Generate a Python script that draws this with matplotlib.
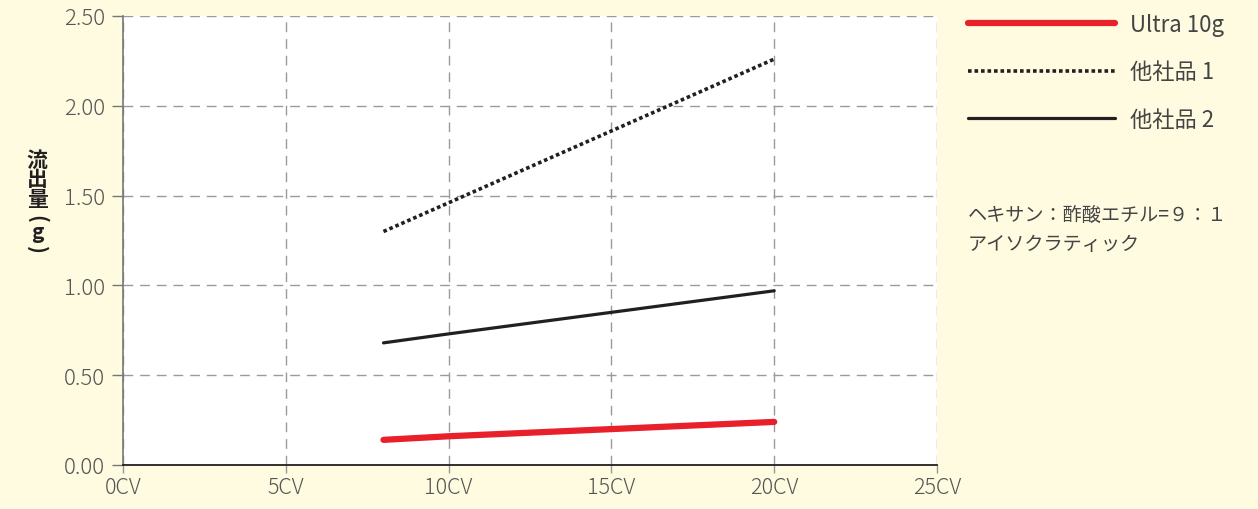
import matplotlib
matplotlib.use("Agg")
import matplotlib.pyplot as plt

plt.rcParams['font.family'] = ['Noto Sans CJK JP', 'DejaVu Sans']

# data
cv = [8, 10, 15, 20]
ultra = [0.14, 0.16, 0.20, 0.24]
other1 = [1.30, 1.46, 1.86, 2.26]
other2 = [0.68, 0.73, 0.85, 0.97]

series_labels = ["Ultra 10g", "他社品 1", "他社品 2"]
xticks = [0, 5, 10, 15, 20, 25]
xtick_labels = ["0CV", "5CV", "10CV", "15CV", "20CV", "25CV"]
yticks = [0.0, 0.5, 1.0, 1.5, 2.0, 2.5]
ytick_labels = ["0.00", "0.50", "1.00", "1.50", "2.00", "2.50"]
ylabel_top = "流\n出\n量"
ylabel_unit = "g"
note = "ヘキサン：酢酸エチル=９：１\nアイソクラティック"

bg = "#fefbe0"
fig = plt.figure(figsize=(12.58, 5.10), dpi=100, facecolor=bg)
ax = fig.add_axes([123 / 1258, 1 - 466 / 510, (937 - 123) / 1258, (466 - 17) / 510])
ax.set_facecolor("white")

ax.plot(cv, ultra, color="#e8202a", lw=4.5, solid_capstyle="round", label=series_labels[0], zorder=4)
ax.plot(cv, other1, color="#231f20", lw=2.6, linestyle=(0, (1, 0.8)), dash_capstyle="butt",
        label=series_labels[1], zorder=4)
ax.plot(cv, other2, color="#231f20", lw=2.3, solid_capstyle="round", label=series_labels[2], zorder=4)

ax.set_xlim(0, 25)
ax.set_ylim(0, 2.5)
ax.set_xticks(xticks)
ax.set_xticklabels(xtick_labels)
ax.set_yticks(yticks)
ax.set_yticklabels(ytick_labels)
ax.grid(True, color="#9a9a9a", lw=1, linestyle=(0, (7, 5)), zorder=1)
ax.set_axisbelow(True)

for s in ["top", "right"]:
    ax.spines[s].set_visible(False)
ax.spines["left"].set_color("#777777")
ax.spines["left"].set_linewidth(1.2)
ax.spines["bottom"].set_color("#231f20")
ax.spines["bottom"].set_linewidth(1.3)
ax.spines["bottom"].set_zorder(5)

ax.tick_params(axis="y", direction="out", length=8, width=1, color="#777777",
               labelsize=16, labelcolor="#555555", pad=5)
ax.tick_params(axis="x", direction="out", length=6, width=1, color="#999999",
               labelsize=15.5, labelcolor="#555555", pad=2)
for t in ax.get_xticklabels() + ax.get_yticklabels():
    t.set_fontweight("light")

# vertical y label: stacked kanji, then rotated brackets around an upright g
lx = 37 / 1258
fig.text(lx, 1 - 180 / 510, ylabel_top, ha="center", va="center", fontsize=15,
         fontweight="bold", color="#231f20", linespacing=0.92)
fig.text(lx, 1 - 219 / 510, "(", ha="center", va="center", fontsize=15,
         fontweight="bold", color="#231f20", rotation=-90)
fig.text(lx, 1 - 233 / 510, ylabel_unit, ha="center", va="center", fontsize=15,
         fontweight="bold", color="#231f20")
fig.text(lx, 1 - 250 / 510, ")", ha="center", va="center", fontsize=15,
         fontweight="bold", color="#231f20", rotation=-90)

leg = ax.legend(loc="upper left", bbox_to_anchor=(968 / 1258, 1 - 14 / 510),
                bbox_transform=fig.transFigure, frameon=False, borderpad=0, borderaxespad=0,
                handlelength=6.6, handletextpad=0.68, labelspacing=1.1, fontsize=16)
for t in leg.get_texts():
    t.set_color("#444444")

fig.text(968 / 1258, 1 - 230 / 510, note, ha="left", va="center", fontsize=13.8,
         color="#444444", linespacing=1.55)

fig.savefig("out.png", dpi=100, facecolor=bg)
